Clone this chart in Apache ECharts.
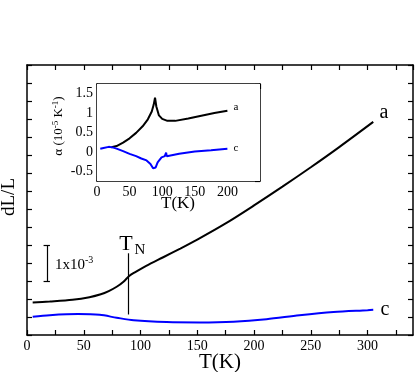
<!DOCTYPE html>
<html>
<head>
<meta charset="utf-8">
<script src="https://cdn.jsdelivr.net/npm/echarts@6/dist/echarts.min.js"></script>
<style>
  html, body { margin: 0; padding: 0; background: #fff; }
  #main { width: 415px; height: 372px; }
</style>
</head>
<body>
<div id="main"></div>
<script>
// main panel: dL/L in units of 1e-3 (offset), T in K
var tA = [5, 20, 40, 55, 65, 72, 79, 85, 90, 95, 105, 120, 135, 150, 175, 200, 225, 250, 275, 305];
var dlA = [0.40, 0.43, 0.48, 0.55, 0.63, 0.72, 0.84, 0.98, 1.14, 1.24, 1.42, 1.66, 1.90, 2.15, 2.60, 3.10, 3.62, 4.16, 4.72, 5.42];
var tC = [5, 20, 45, 64, 79, 94, 123, 152, 182, 211, 240, 270, 300, 305];
var dlC = [0.01, 0.05, 0.08, 0.06, -0.02, -0.09, -0.14, -0.15, -0.13, -0.06, 0.05, 0.14, 0.19, 0.20];

// inset: alpha in 1e-5 K^-1
var tInA = [22, 30, 40, 50, 60, 70, 78, 84, 87, 89, 91, 95, 100, 108, 120, 140, 160, 180, 200];
var alA = [0.12, 0.15, 0.24, 0.35, 0.49, 0.66, 0.84, 1.04, 1.22, 1.40, 1.17, 0.94, 0.85, 0.80, 0.80, 0.86, 0.93, 1.00, 1.06];
var tInC = [5, 10, 18, 25, 30, 40, 50, 60, 68, 76, 82, 86, 88, 90, 93, 99, 104, 106, 107, 110, 126, 150, 175, 200];
var alC = [0.08, 0.10, 0.13, 0.11, 0.085, 0.02, -0.05, -0.11, -0.17, -0.22, -0.31, -0.42, -0.46, -0.40, -0.27, -0.14, -0.11, -0.02, -0.11, -0.09, -0.05, 0.01, 0.04, 0.08];

var tN = 89.5;

function pairs(xs, ys) {
    return xs.map(function(x, i) { return [x, ys[i]]; });
}

var serif = 'Liberation Serif';

function xAx(grid, pos, min, max, interval, labels) {
    return {
        type: 'value', gridIndex: grid, position: pos,
        min: min, max: max, interval: interval,
        axisLine: { show: true, onZero: false, lineStyle: { color: '#000', width: 1.5 } },
        axisTick: { show: true, inside: true, length: 5, lineStyle: { color: '#000', width: 1.2 } },
        axisLabel: {
            show: labels, color: '#000', fontFamily: serif, fontSize: 14, margin: 4,
            showMaxLabel: false,
            formatter: function(v) { return v % 50 === 0 ? String(v) : ''; }
        },
        splitLine: { show: false }
    };
}

function yAx(grid, pos, min, max, interval, labels) {
    return {
        type: 'value', gridIndex: grid, position: pos,
        min: min, max: max, interval: interval,
        axisLine: { show: true, onZero: false, lineStyle: { color: '#000', width: 1.5 } },
        axisTick: { show: true, inside: true, length: 5, lineStyle: { color: '#000', width: 1.2 } },
        axisLabel: {
            show: labels, color: '#000', fontFamily: serif, fontSize: 14, margin: 4,
            showMinLabel: false, showMaxLabel: false,
            formatter: function(v) {
                var r = Math.round(v * 100) / 100;
                return (Math.abs(r * 2 - Math.round(r * 2)) < 1e-6) ? String(r) : '';
            }
        },
        splitLine: { show: false }
    };
}

var chart = echarts.init(document.getElementById('main'));

var option = {
    animation: false,
    backgroundColor: '#fff',
    grid: [
        { left: 27, right: 2, top: 65, bottom: 37 },
        { left: 97, right: 155, top: 84, bottom: 191, show: true, backgroundColor: '#fff', borderWidth: 0, z: 5 }
    ],
    xAxis: [
        xAx(0, 'bottom', 0, 340, 25, true),
        xAx(0, 'top', 0, 340, 25, false),
        xAx(1, 'bottom', 0, 250, 25, true),
        xAx(1, 'top', 0, 250, 25, false)
    ],
    yAxis: [
        yAx(0, 'left', -0.5, 7, 0.5, false),
        yAx(0, 'right', -0.5, 7, 0.5, false),
        yAx(1, 'left', -0.75, 1.75, 0.25, true),
        yAx(1, 'right', -0.75, 1.75, 0.25, false)
    ],
    series: [
        {
            type: 'line', xAxisIndex: 0, yAxisIndex: 0,
            data: pairs(tA, dlA), smooth: 0.3, showSymbol: false,
            lineStyle: { color: '#000', width: 2 },
            markLine: {
                silent: true, symbol: 'none', label: { show: false },
                lineStyle: { color: '#000', width: 1.2, type: 'solid' },
                data: [
                    [{ coord: [tN, 1.77] }, { coord: [tN, 0.07] }],
                    [{ coord: [17.4, 1] }, { coord: [17.4, 2] }],
                    [{ coord: [14.6, 1] }, { coord: [20.2, 1] }],
                    [{ coord: [14.6, 2] }, { coord: [20.2, 2] }]
                ]
            }
        },
        {
            type: 'line', xAxisIndex: 0, yAxisIndex: 0,
            data: pairs(tC, dlC), smooth: 0.3, showSymbol: false,
            lineStyle: { color: '#0000ff', width: 2 }
        },
        {
            type: 'line', xAxisIndex: 2, yAxisIndex: 2, z: 6,
            data: pairs(tInA, alA), smooth: false, showSymbol: false,
            lineStyle: { color: '#000', width: 2 }
        },
        {
            type: 'line', xAxisIndex: 2, yAxisIndex: 2, z: 6,
            data: pairs(tInC, alC), smooth: false, showSymbol: false,
            lineStyle: { color: '#0000ff', width: 2 }
        }
    ],
    graphic: [
        { type: 'text', x: 220, y: 362, style: { text: 'T(K)', font: '21px ' + serif, fill: '#000', align: 'center', verticalAlign: 'middle' } },
        { type: 'text', x: 9, y: 197, rotation: Math.PI / 2, style: { text: 'dL/L', font: '19px ' + serif, fill: '#000', align: 'center', verticalAlign: 'middle' } },
        { type: 'text', x: 384, y: 113, style: { text: 'a', font: '20px ' + serif, fill: '#000', align: 'center', verticalAlign: 'middle' } },
        { type: 'text', x: 385, y: 310, style: { text: 'c', font: '20px ' + serif, fill: '#000', align: 'center', verticalAlign: 'middle' } },
        { type: 'text', x: 126, y: 244, style: { text: 'T', font: '22px ' + serif, fill: '#000', align: 'center', verticalAlign: 'middle' } },
        { type: 'text', x: 140, y: 250, style: { text: 'N', font: '15px ' + serif, fill: '#000', align: 'center', verticalAlign: 'middle' } },
        { type: 'text', x: 55, y: 264, style: { text: '{b|1x10}{s|-3}', verticalAlign: 'middle', rich: { b: { font: '15px ' + serif, fill: '#000', verticalAlign: 'bottom' }, s: { font: '10px ' + serif, fill: '#000', padding: [0, 0, 8, 0] } } } },
        { type: 'text', x: 178, y: 204, z: 10, style: { text: 'T(K)', font: '17px ' + serif, fill: '#000', align: 'center', verticalAlign: 'middle' } },
        { type: 'text', x: 59, y: 126, z: 10, rotation: Math.PI / 2, style: { text: '{b|α (10}{s|-5}{b| K}{s|-1}{b|)}', align: 'center', verticalAlign: 'middle', rich: { b: { font: '13px ' + serif, fill: '#000' }, s: { font: '9px ' + serif, fill: '#000', padding: [0, 0, 7, 0] } } } },
        { type: 'text', x: 236, y: 107, z: 10, style: { text: 'a', font: '11px ' + serif, fill: '#000', align: 'center', verticalAlign: 'middle' } },
        { type: 'text', x: 236, y: 148, z: 10, style: { text: 'c', font: '11px ' + serif, fill: '#000', align: 'center', verticalAlign: 'middle' } }
    ]
};

chart.setOption(option);
</script>
</body>
</html>
